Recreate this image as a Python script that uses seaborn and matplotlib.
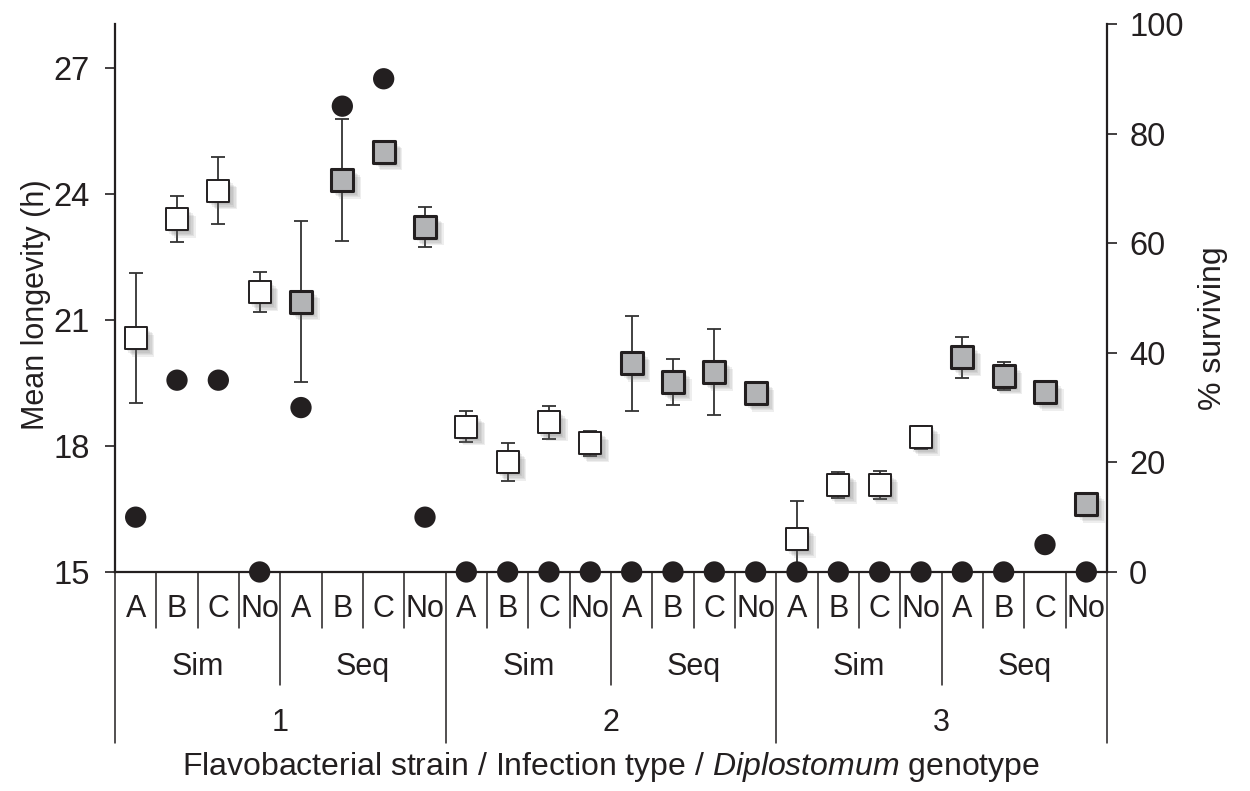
"""Mean longevity and % surviving by strain / infection type / genotype"""
import itertools
import matplotlib.pyplot as plt
import matplotlib.patheffects as pe
import numpy as np
import pandas as pd
import seaborn as sns

#category levels, outermost first
strains = ['1', '2', '3']
infections = ['Sim', 'Seq']
genotypes = ['A', 'B', 'C', 'No']

#mean longevity (h) and its error, one value per bottom category
longevity = [20.57, 23.40, 24.08, 21.66, 21.44, 24.33, 25.01, 23.22,
             18.46, 17.62, 18.56, 18.06, 19.97, 19.52, 19.76, 19.26,
             15.78, 17.07, 17.07, 18.21, 20.11, 19.67, 19.28, 16.62]
longevity_err = [1.55, 0.55, 0.80, 0.48, 1.92, 1.45, 0.20, 0.48,
                 0.37, 0.45, 0.40, 0.30, 1.13, 0.55, 1.03, 0.27,
                 0.90, 0.30, 0.33, 0.27, 0.49, 0.34, 0.15, 0.15]
#% surviving (right axis)
surviving = [10, 35, 35, 0, 30, 85, 90, 10,
             0, 0, 0, 0, 0, 0, 0, 0,
             0, 0, 0, 0, 0, 0, 5, 0]

left_ticks = [15, 18, 21, 24, 27]
right_ticks = [0, 20, 40, 60, 80, 100]

df = pd.DataFrame(list(itertools.product(strains, infections, genotypes)),
                  columns=['strain', 'infection', 'genotype'])
df['pos'] = np.arange(len(df))
df['longevity'] = longevity
df['err'] = longevity_err
df['surviving'] = surviving

sns.set_style('white')
plt.rcParams['font.family'] = ['Liberation Sans', 'DejaVu Sans']
plt.rcParams['mathtext.fontset'] = 'custom'
plt.rcParams['mathtext.rm'] = 'Liberation Sans'
plt.rcParams['mathtext.it'] = 'Liberation Sans:italic'

ink = '#231f20'
fs = 22          #category labels
fs_tick = 23.5   #axis numbers
fs_label = 23    #axis titles

fig = plt.figure(figsize=(12.5, 7.91), dpi=100)
ax = fig.add_axes([0.092, 0.2769, 0.7936, 0.6928])
ax2 = ax.twinx()

#soft drop shadow under the squares
shadow = [pe.SimplePatchShadow(offset=(d, -d), shadow_rgbFace='#6a6a6a', alpha=0.11)
          for d in (1.5, 2.5, 3.5, 4.5, 5.5)] + [pe.Normal()]

ax.errorbar(df['pos'], df['longevity'], yerr=df['err'], fmt='none',
            ecolor='#333333', elinewidth=1.3, capsize=5, capthick=1.3, zorder=2)

sim = df[df['infection'] == 'Sim']
seq = df[df['infection'] == 'Seq']
sns.scatterplot(data=sim, x='pos', y='longevity', marker='s', s=250, color='white',
                edgecolor=ink, linewidth=1.4, ax=ax, zorder=3)
ax.collections[-1].set_path_effects(shadow)
sns.scatterplot(data=seq, x='pos', y='longevity', marker='s', s=250, color='#b3b4b6',
                edgecolor=ink, linewidth=2.2, ax=ax, zorder=3)
ax.collections[-1].set_path_effects(shadow)

#% surviving as black dots on the right axis
sns.scatterplot(data=df, x='pos', y='surviving', s=235, color=ink, edgecolor='none',
                ax=ax2, zorder=4, clip_on=False)

ax.set_xlim(-0.5, len(df) - 0.5)
ax.set_ylim(15, 28.05)
ax2.set_ylim(0, 100)
ax.set_yticks(left_ticks)
ax2.set_yticks(right_ticks)
ax.set_xticks([])
ax2.set_xticks([])
ax.set_xlabel('')
ax2.set_xlabel('')

for side in ['top', 'right']:
    ax.spines[side].set_visible(False)
for side in ['top', 'left', 'bottom']:
    ax2.spines[side].set_visible(False)
for spine in [ax.spines['left'], ax.spines['bottom'], ax2.spines['right']]:
    spine.set_color(ink)
    spine.set_linewidth(1.6)

ax.tick_params(axis='y', direction='out', length=7, width=1.2, colors=ink,
               labelsize=fs_tick, pad=11, left=True)
ax2.tick_params(axis='y', direction='out', length=7, width=1.2, colors=ink,
                labelsize=fs_tick, pad=9, right=True)

ax.set_ylabel('Mean longevity (h)', fontsize=fs_label - 1, color=ink, labelpad=2)
ax2.set_ylabel('% surviving', fontsize=fs_label, color=ink, labelpad=10)
#titles sit a little below the middle of the axis
ax.yaxis.label.set_y(0.487)
ax2.yaxis.label.set_y(0.445)

#hierarchical category axis below the plot
trans = ax.get_xaxis_transform()
for b in np.arange(-0.5, len(df), 1.0):
    idx = int(b + 0.5)
    if idx % 8 == 0:
        depth = 0.313
    elif idx % 4 == 0:
        depth = 0.207
    else:
        depth = 0.102
    ax.plot([b, b], [0, -depth], transform=trans, clip_on=False, color=ink, lw=1.1)

for _, row in df.iterrows():
    ax.text(row['pos'], -0.068, row['genotype'], transform=trans, ha='center',
            va='center', fontsize=fs, color=ink)
for (strain, infection), grp in df.groupby(['strain', 'infection'], sort=False):
    ax.text(grp['pos'].mean(), -0.173, infection, transform=trans, ha='center',
            va='center', fontsize=fs, color=ink)
for strain, grp in df.groupby('strain', sort=False):
    ax.text(grp['pos'].mean(), -0.275, strain, transform=trans, ha='center',
            va='center', fontsize=fs, color=ink)

ax.text(0.5, -0.356, r'Flavobacterial strain / Infection type / $\it{Diplostomum}$ genotype',
        transform=ax.transAxes, ha='center', va='center', fontsize=fs_label, color=ink)

fig.savefig('out.png', dpi=100)
